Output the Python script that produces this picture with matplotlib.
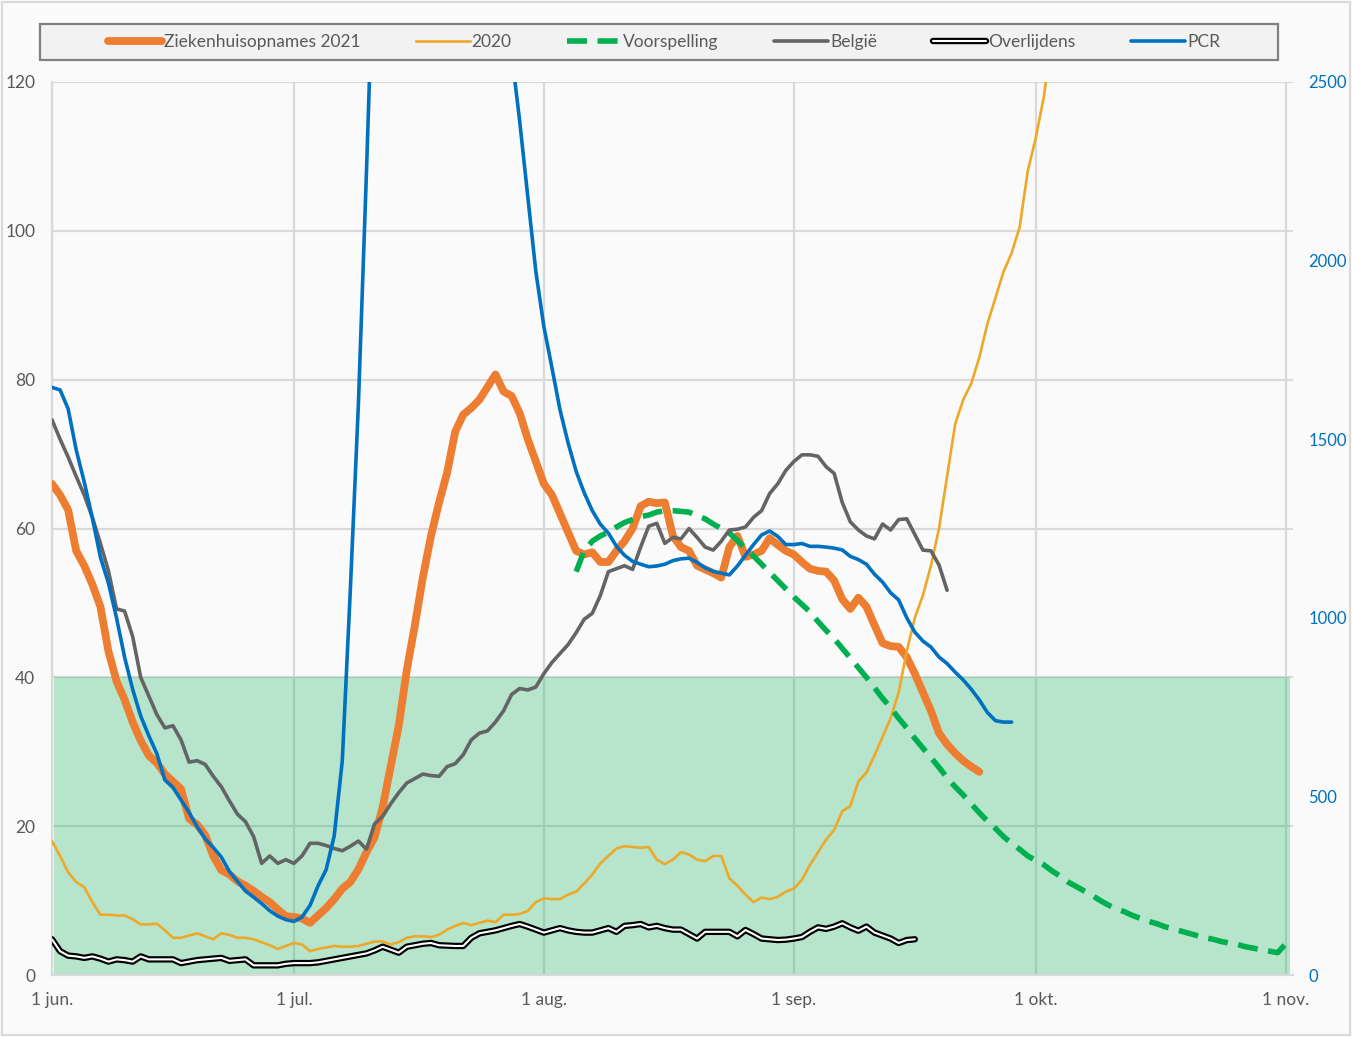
import matplotlib
matplotlib.use('Agg')
import matplotlib.pyplot as plt
import matplotlib.patheffects as pe
from matplotlib.patches import Rectangle

plt.rcParams['font.family'] = ['Lato', 'DejaVu Sans']

# dag 0 = 1 juni
maand_dagen = [0, 30, 61, 92, 122, 153]
maand_labels = ['1 jun.', '1 jul.', '1 aug.', '1 sep.', '1 okt.', '1 nov.']

# ziekenhuisopnames 2021 (linker as), vanaf 1 juni
opnames_2021 = [
    66, 64.5, 62.5, 57, 55, 52.5, 49.5, 43.5, 39.5, 37,
    34, 31.5, 29.5, 28.5, 27, 26, 25, 21, 20.2, 18.8,
    16, 14.1, 13.5, 12.6, 12, 11.3, 10.5, 9.8, 8.8, 7.9,
    7.8, 7.6, 7.0, 8, 9, 10.2, 11.6, 12.5, 14.2, 16.5,
    18.5, 22.5, 28, 33.5, 41, 47, 53.5, 59, 63.5, 67.5,
    73, 75.3, 76.2, 77.3, 79, 80.7, 78.4, 77.8, 75.5, 72,
    69, 66, 64.5, 62, 59.5, 57, 56.5, 56.8, 55.5, 55.5,
    57, 58.3, 60, 63, 63.6, 63.4, 63.5, 59, 57.5, 57,
    55, 54.5, 54, 53.4, 57.5, 59, 56.2, 56.5, 57, 58.7,
    57.8, 57, 56.5, 55.5, 54.6, 54.3, 54.2, 53, 50.5, 49.2,
    50.7, 49.5, 47, 44.6, 44.2, 44.1, 42.7, 40.5, 38, 35.5,
    32.5, 31, 29.8, 28.8, 28, 27.3,
]

# 2020 (linker as)
opnames_2020 = [
    18, 16, 13.8, 12.5, 11.8, 9.8, 8.1, 8.1, 8.0, 8.0,
    7.5, 6.8, 6.8, 6.9, 6.0, 5.0, 5.0, 5.3, 5.6, 5.2,
    4.8, 5.6, 5.4, 5.0, 5.0, 4.8, 4.4, 4.0, 3.5, 3.9,
    4.3, 4.1, 3.2, 3.5, 3.7, 3.9, 3.8, 3.8, 3.9, 4.2,
    4.5, 4.5, 4.1, 4.4, 5.0, 5.2, 5.2, 5.1, 5.4, 6.1,
    6.6, 7.0, 6.7, 7.0, 7.3, 7.1, 8.1, 8.1, 8.2, 8.6,
    9.8, 10.3, 10.2, 10.2, 10.8, 11.2, 12.3, 13.5, 15.0, 16.0,
    17.0, 17.3, 17.2, 17.1, 17.2, 15.5, 14.9, 15.5, 16.5, 16.2,
    15.5, 15.3, 16.0, 16.0, 13.0, 12.0, 10.8, 9.8, 10.4, 10.2,
    10.5, 11.2, 11.6, 12.8, 14.8, 16.5, 18.2, 19.5, 22.0, 22.7,
    26.0, 27.2, 29.5, 32.0, 34.5, 38.0, 43.5, 48.0, 51.0, 55.0,
    60.0, 67.0, 74.0, 77.3, 79.5, 83.0, 87.5, 91.0, 94.5, 97.0,
    100.5, 108.0, 112.5, 118.0, 126.0,
]

# voorspelling (linker as), begint op dag 65
voorspelling_start = 65
voorspelling = [
    54.2, 57.0, 58.3, 59.0, 59.5, 60.2, 60.8, 61.2, 61.6, 61.8,
    62.2, 62.4, 62.4, 62.3, 62.2, 61.7, 61.3, 60.6, 60.0, 59.4,
    58.4, 57.3, 56.3, 55.2, 54.1, 53.0, 51.9, 50.8, 49.8, 48.8,
    47.5, 46.3, 45.2, 43.9, 42.6, 41.3, 40.0, 38.6, 37.2, 35.9,
    34.5, 33.2, 31.8, 30.5, 29.2, 27.9, 26.5, 25.3, 24.2, 23.0,
    21.8, 20.7, 19.7, 18.6, 17.7, 16.9, 16.0, 15.4, 14.8, 14.0,
    13.3, 12.5, 11.9, 11.3, 10.7, 10.0, 9.4, 8.9, 8.5, 8.0,
    7.6, 7.2, 6.9, 6.5, 6.2, 5.9, 5.6, 5.3, 5.0, 4.8,
    4.5, 4.3, 4.1, 3.8, 3.6, 3.4, 3.2, 3.0, 4.2,
]

# België (linker as)
belgie = [
    74.6, 72, 69.6, 67, 64.5, 61.5, 58, 54.3, 49.2, 48.9,
    45.5, 40, 37.5, 35, 33.2, 33.5, 31.6, 28.6, 28.8, 28.3,
    26.7, 25.3, 23.4, 21.6, 20.6, 18.6, 15.0, 16.0, 15.0, 15.5,
    15.0, 16.0, 17.7, 17.7, 17.4, 17.0, 16.7, 17.3, 18.0, 16.9,
    20.3, 21.3, 23.0, 24.5, 25.8, 26.4, 27.0, 26.8, 26.7, 28.0,
    28.4, 29.6, 31.6, 32.5, 32.8, 34.0, 35.5, 37.7, 38.5, 38.3,
    38.7, 40.5, 42.0, 43.2, 44.4, 46.0, 47.8, 48.6, 51.0, 54.2,
    54.6, 55.0, 54.5, 57.5, 60.3, 60.7, 58.0, 58.8, 58.6, 60.0,
    58.8, 57.5, 57.1, 58.3, 59.8, 59.9, 60.2, 61.5, 62.4, 64.7,
    66.0, 67.8, 69.0, 69.9, 69.9, 69.7, 68.3, 67.4, 63.5, 60.9,
    59.8, 59.0, 58.6, 60.6, 59.8, 61.2, 61.3, 59.2, 57.1, 57.0,
    55.1, 51.7,
]

# overlijdens (linker as)
overlijdens = [
    4.8, 3.2, 2.6, 2.5, 2.3, 2.5, 2.2, 1.8, 2.1, 2.0,
    1.8, 2.5, 2.1, 2.1, 2.1, 2.1, 1.6, 1.8, 2.0, 2.1,
    2.2, 2.3, 1.9, 2.0, 2.1, 1.3, 1.3, 1.3, 1.3, 1.5,
    1.6, 1.6, 1.6, 1.7, 1.9, 2.1, 2.3, 2.5, 2.7, 2.9,
    3.3, 3.8, 3.4, 3.0, 3.8, 4.0, 4.2, 4.3, 4.0, 3.95,
    3.9, 3.9, 5.0, 5.6, 5.8, 6.0, 6.3, 6.6, 6.85, 6.5,
    6.1, 5.7, 6.0, 6.3, 6.0, 5.8, 5.7, 5.7, 6.0, 6.3,
    5.8, 6.6, 6.7, 6.85, 6.4, 6.6, 6.3, 6.1, 6.1, 5.5,
    4.9, 5.8, 5.8, 5.8, 5.8, 5.2, 6.05, 5.5, 4.9, 4.8,
    4.7, 4.75, 4.9, 5.1, 5.8, 6.4, 6.2, 6.5, 6.95, 6.4,
    5.95, 6.5, 5.7, 5.3, 4.9, 4.3, 4.7, 4.8,
]

# PCR (rechter as)
pcr = [
    1645, 1638, 1585, 1470, 1380, 1280, 1170, 1097, 1000, 890,
    800, 725, 670, 620, 546, 525, 490, 455, 415, 381,
    357, 330, 290, 262, 235, 218, 200, 180, 165, 155,
    150, 162, 195, 250, 295, 390, 600, 1080, 1600, 2250,
    2950, 3600, 4200, 4700, 5100, 5400, 5500, 5450, 5250, 4950,
    4550, 4150, 3750, 3400, 3100, 2850, 2650, 2580, 2390, 2180,
    1970, 1815, 1700, 1582, 1490, 1410, 1350, 1300, 1262, 1237,
    1200, 1175, 1158, 1150, 1143, 1145, 1150, 1160, 1165, 1167,
    1155, 1140, 1130, 1125, 1120, 1145, 1175, 1205, 1232, 1243,
    1228, 1205, 1205, 1208, 1200, 1200, 1198, 1195, 1190, 1172,
    1163, 1150, 1122, 1100, 1070, 1050, 1000, 960, 935, 918,
    890, 872, 848, 826, 800, 770, 735, 712, 708, 708,
]

drempel = 40

W, H = 1352, 1037
fig = plt.figure(figsize=(W / 100, H / 100), dpi=100, facecolor='#fafafa')
ax = fig.add_axes([52 / W, 1 - 975 / H, (1293 - 52) / W, (975 - 82) / H])
ax.set_facecolor('#fafafa')

# groene zone
ax.fill_between([0.3, 153.5], 0, drempel, color='#00B050', alpha=0.27, lw=0, zorder=1)

ax.plot(range(len(opnames_2021)), opnames_2021, color='#ED7D31', lw=5.6,
        solid_joinstyle='round', solid_capstyle='round', zorder=3, label='Ziekenhuisopnames 2021')
ax.plot(range(len(opnames_2020)), opnames_2020, color='#EEA828', lw=1.9,
        solid_joinstyle='round', zorder=3, label='2020')
ax.plot(range(voorspelling_start, voorspelling_start + len(voorspelling)), voorspelling,
        color='#00B050', lw=4, dashes=(3.6, 1.9), zorder=4, label='Voorspelling')
ax.plot(range(len(belgie)), belgie, color='#646464', lw=2.6,
        solid_joinstyle='round', solid_capstyle='round', zorder=4, label='België')
ax.plot(range(len(overlijdens)), overlijdens, color='white', lw=1.5,
        solid_joinstyle='round', solid_capstyle='round', zorder=4, label='Overlijdens',
        path_effects=[pe.Stroke(linewidth=4.6, foreground='black'), pe.Normal()])

ax.set_xlim(0, 153.9)
ax.set_ylim(0, 120)
ax.set_xticks(maand_dagen)
ax.set_xticklabels(maand_labels)
ax.set_yticks(range(0, 121, 20))
ax.grid(True, color='#d9d9d9', lw=1.6)
ax.set_axisbelow(True)
ax.tick_params(length=0, labelsize=12.5, labelcolor='#595959')
ax.tick_params(axis='y', pad=12)
ax.tick_params(axis='x', pad=12)
for s in ['top', 'right']:
    ax.spines[s].set_visible(False)
for s in ['left', 'bottom']:
    ax.spines[s].set_color('#d9d9d9')
    ax.spines[s].set_linewidth(1.6)

ax2 = ax.twinx()
ax2.plot(range(len(pcr)), pcr, color='#0070C0', lw=2.6,
         solid_joinstyle='round', solid_capstyle='round', zorder=5, label='PCR')
ax2.set_ylim(0, 2500)
ax2.set_yticks(range(0, 2501, 500))
ax2.tick_params(length=0, labelsize=12, labelcolor='#0070C0', pad=11)
for s in ax2.spines.values():
    s.set_visible(False)

# legendakader
fig.patches.append(Rectangle((40 / W, 1 - 60 / H), 1238 / W, 36 / H, transform=fig.transFigure,
                             facecolor='#f2f2f2', edgecolor='#808080', lw=1.6, zorder=0))

h1, l1 = ax.get_legend_handles_labels()
h2, l2 = ax2.get_legend_handles_labels()
leg = fig.legend(h1 + h2, l1 + l2, loc='center', ncol=6,
                 bbox_to_anchor=(664 / W, 1 - 42 / H),
                 fontsize=12.5, labelcolor='#595959', handlelength=3.1,
                 handletextpad=0.12, columnspacing=3.2, frameon=False)

fig.patches.append(Rectangle((2 / W, 2 / H), 1 - 4 / W, 1 - 4 / H, transform=fig.transFigure,
                             fill=False, edgecolor='#d9d9d9', lw=1.5))

fig.savefig('out.png', dpi=100, facecolor=fig.get_facecolor())
